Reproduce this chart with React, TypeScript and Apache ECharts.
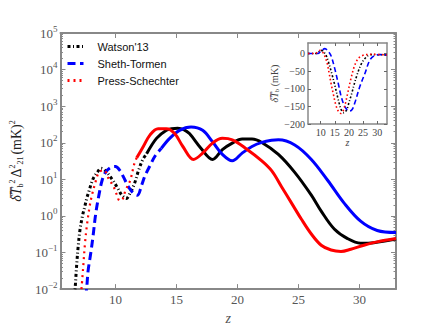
import React, { useEffect, useRef } from "react";
import * as echarts from "echarts";

// ---- Main panel data: (z, power) ----
const watsonLowZ = [6.62, 6.7, 6.81, 6.95, 7.11, 7.33, 7.49, 7.65, 7.84, 8.02, 8.24, 8.51, 8.83, 9.19, 9.72, 10.13, 10.53, 10.89, 11.21, 11.56, 11.89, 12.23, 12.56];
const watsonLowV = [0.007, 0.0107, 0.038, 0.145, 0.44, 1.1, 1.8, 3.0, 4.8, 7.6, 11.5, 15.5, 20, 17, 10.2, 6.2, 3.7, 3.0, 4.2, 7.6, 17, 34, 50];
const watsonHighZ = [12.56, 13.37, 14.18, 14.6, 15.1, 15.6, 16.07, 17.01, 17.96, 18.77, 19.58, 20.39, 21.2, 22.0, 23.36, 24.7, 26.06, 26.87, 27.94, 29.03, 30.1, 31.18, 33.0];
const watsonHighV = [50, 132, 219, 240, 251, 230, 178, 71, 35, 65, 98, 126, 126, 102, 48, 15.5, 3.7, 1.35, 0.44, 0.24, 0.18, 0.186, 0.234];

const shethLowZ = [7.55, 7.65, 7.76, 7.98, 8.19, 8.38, 8.65, 8.91, 9.19, 9.6, 10.0, 10.4, 10.67, 11.08, 11.48, 11.81, 12.15, 12.43, 12.83, 13.24, 13.77];
const shethLowV = [0.006, 0.0107, 0.031, 0.095, 0.32, 1.1, 3.7, 9.3, 15.5, 21, 22.4, 17, 11.5, 6.2, 4.2, 3.7, 6.9, 12.6, 23.4, 42.7, 70.8];
const shethHighZ = [13.77, 14.45, 15.26, 16.2, 17.15, 17.96, 18.77, 19.58, 20.39, 21.2, 22.0, 22.8, 23.36, 24.7, 26.06, 27.41, 28.75, 30.1, 31.46, 33.0];
const shethHighV = [70.8, 132, 219, 269, 219, 107, 48, 32, 52, 79, 102, 117, 120, 87, 35, 9.3, 2.24, 0.72, 0.4, 0.35];

const pressLowZ = [7.22, 7.35, 7.51, 7.68, 7.9, 8.08, 8.3, 8.65, 9.05, 9.46, 9.86, 10.13, 10.35, 10.62, 10.81, 11.21, 11.54, 11.75];
const pressLowV = [0.01, 0.035, 0.178, 0.6, 1.9, 3.7, 6.9, 15.5, 17.8, 10.2, 6.2, 3.7, 2.6, 3.0, 4.8, 9.3, 25.7, 39];
const pressHighZ = [11.75, 12.29, 12.83, 13.5, 14.18, 14.86, 15.53, 16.4, 17.15, 17.96, 18.77, 19.58, 20.66, 22.0, 22.82, 23.63, 24.44, 25.25, 26.06, 26.87, 27.68, 28.49, 29.3, 30.37, 31.46, 33.0];
const pressHighV = [39, 79, 162, 240, 240, 178, 79, 35, 52, 98, 132, 120, 71, 32, 17, 6.2, 2.24, 0.81, 0.32, 0.158, 0.117, 0.107, 0.123, 0.158, 0.195, 0.24];

// ---- Inset data: mean brightness temperature (mK) ----
const insetWatsonZ = [5.5, 8.3, 9.3, 10.1, 10.9, 11.9, 12.8, 13.9, 15.1, 16.2, 17.2, 18.2, 19.2, 20.0, 20.9, 22.7, 24.5, 26.3, 28.0, 33.5];
const insetWatsonT = [0, 0, 5, 9, 6, -5, -25, -56, -93, -130, -158, -168, -160, -140, -116, -65, -28, -9, -3, -4];
const insetShethZ = [5.5, 9.0, 10.0, 11.5, 12.5, 13.6, 14.8, 16.2, 17.4, 18.8, 20.3, 21.2, 22.1, 23.9, 25.7, 27.4, 29.2, 31.0, 33.5];
const insetShethT = [0, 0, 6, 14, 8, -5, -37, -84, -126, -154, -163, -158, -140, -93, -56, -19, -5, -3, -4];
const insetPressZ = [5.5, 8.0, 9.0, 9.75, 10.6, 11.5, 12.3, 13.0, 13.7, 14.5, 15.3, 16.2, 17.1, 18.0, 18.8, 19.5, 20.7, 21.9, 23.3, 25.0, 28.0, 33.5];
const insetPressT = [0, 0, 5, 9, 5, -8, -28, -56, -86, -116, -144, -163, -170, -162, -140, -115, -72, -37, -14, -5, -2, -4];

const zTicks = [10, 15, 20, 25, 30];
const powerTicks = [0.01, 0.1, 1, 10, 100, 1000, 10000, 100000];
const powerMinor = [2, 3, 4, 5, 6, 7, 8, 9].flatMap((m) => [m * 0.01, m * 0.1, m, m * 10, m * 100, m * 1000, m * 10000]);
const tempTicks = [0, -50, -100, -150, -200];

const NAMES = ["Watson'13", "Sheth-Tormen", "Press-Schechter"];

const zip = (a: number[], b: number[]) => a.map((x, i) => [x, b[i]]);

const SERIF = "'Liberation Serif', 'DejaVu Serif', serif";
const SANS = "'Liberation Sans', Arial, sans-serif";
const FRAME = "#888888";
const LABEL = "#555555";

export default function App() {
  const ref = useRef<HTMLDivElement>(null);
  useEffect(() => {
    if (!ref.current) return;
    const chart = echarts.init(ref.current, undefined, { renderer: "svg" });

    const supFmt = (v: number) => {
      const e = Math.round(Math.log10(v));
      return "10{s|" + (e < 0 ? "\u2212" + -e : String(e)) + "}";
    };

    const mainX = (pos: "bottom" | "top", labels: boolean) => ({
      type: "value",
      gridIndex: 0,
      position: pos,
      min: 5.5,
      max: 33,
      splitLine: { show: false },
      axisLine: { show: true, onZero: false, lineStyle: { color: FRAME, width: 2 } },
      axisTick: { show: true, inside: true, length: 5, customValues: zTicks, lineStyle: { color: FRAME, width: 1 } },
      axisLabel: { show: labels, customValues: zTicks, margin: 4, fontFamily: SERIF, fontSize: 13, color: LABEL },
      ...(labels
        ? { name: "z", nameLocation: "middle", nameGap: 9, nameTextStyle: { fontFamily: SERIF, fontStyle: "italic", fontSize: 14, color: LABEL } }
        : {}),
    });

    const mainY = (pos: "left" | "right", labels: boolean, minor: boolean) => ({
      type: "log",
      logBase: 10,
      gridIndex: 0,
      position: pos,
      min: 0.01,
      max: 100000,
      splitLine: { show: false },
      axisLine: { show: !minor, lineStyle: { color: FRAME, width: 2 } },
      axisTick: {
        show: true,
        inside: true,
        length: minor ? 2.5 : 5,
        customValues: minor ? powerMinor : powerTicks,
        lineStyle: { color: FRAME, width: 1 },
      },
      axisLabel: {
        show: labels,
        customValues: powerTicks,
        margin: 3,
        formatter: supFmt,
        fontFamily: SERIF,
        fontSize: 13,
        color: LABEL,
        rich: { s: { fontFamily: SERIF, fontSize: 9, color: LABEL, padding: [0, 0, 9, 0] } },
      },
      ...(labels
        ? {
            name: "{it|\u03B4\u0305T\u0305}{sub|b}{sup|2}{rm|\u0394}{sup|2}{sub|21}{rm|(mK)}{sup|2}",
            nameLocation: "middle",
            nameGap: 27,
            nameTextStyle: {
              fontFamily: SERIF,
              fontSize: 14,
              color: "#222",
              rich: {
                it: { fontFamily: SERIF, fontSize: 14, fontStyle: "italic", color: "#222" },
                rm: { fontFamily: SERIF, fontSize: 14, color: "#222", padding: [0, 0, 0, 2] },
                sup: { fontFamily: SERIF, fontSize: 8, color: "#222", padding: [0, 0, 9, 0] },
                sub: { fontFamily: SERIF, fontSize: 8, color: "#222", padding: [7, 0, 0, 0] },
              },
            },
          }
        : {}),
    });

    const insetX = (pos: "bottom" | "top", labels: boolean) => ({
      type: "value",
      gridIndex: 1,
      position: pos,
      min: 5.5,
      max: 33.5,
      splitLine: { show: false },
      axisLine: { show: true, onZero: false, lineStyle: { color: FRAME, width: 1.5 } },
      axisTick: { show: true, inside: true, length: 3, customValues: zTicks, lineStyle: { color: "#666", width: 1 } },
      axisLabel: { show: labels, customValues: zTicks, margin: 3, fontFamily: SERIF, fontSize: 10, color: "#444" },
      ...(labels
        ? { name: "z", nameLocation: "middle", nameGap: 12, nameTextStyle: { fontFamily: SERIF, fontStyle: "italic", fontSize: 10, color: "#444" } }
        : {}),
    });

    const insetY = (pos: "left" | "right", labels: boolean) => ({
      type: "value",
      gridIndex: 1,
      position: pos,
      min: -200,
      max: 30,
      splitLine: { show: false },
      axisLine: { show: true, onZero: false, lineStyle: { color: FRAME, width: 1.5 } },
      axisTick: { show: true, inside: true, length: 3, customValues: tempTicks, lineStyle: { color: "#666", width: 1 } },
      axisLabel: {
        show: labels,
        customValues: tempTicks,
        margin: 3,
        fontFamily: SERIF,
        fontSize: 10,
        color: "#444",
        formatter: (v: number) => (v < 0 ? "\u2212" + -v : String(v)),
      },
      ...(labels
        ? {
            name: "{it|\u03B4\u0305T\u0305}{sub|b} {rm|(mK)}",
            nameLocation: "middle",
            nameGap: 25,
            nameTextStyle: {
              fontFamily: SERIF,
              fontSize: 10,
              color: "#444",
              rich: {
                it: { fontFamily: SERIF, fontSize: 10, fontStyle: "italic", color: "#444" },
                rm: { fontFamily: SERIF, fontSize: 10, color: "#444" },
                sub: { fontFamily: SERIF, fontSize: 7, color: "#444", padding: [5, 0, 0, 0] },
              },
            },
          }
        : {}),
    });

    const mainLine = (name: string, data: number[][], color: string, width: number, type: any) => ({
      name,
      type: "line",
      xAxisIndex: 0,
      yAxisIndex: 0,
      data,
      symbol: "none",
      showSymbol: false,
      smooth: 0.35,
      clip: true,
      lineStyle: { color, width, type, cap: "butt" },
      itemStyle: { color },
    });

    const insetLine = (name: string, data: number[][], color: string, type: any) => ({
      name,
      type: "line",
      xAxisIndex: 2,
      yAxisIndex: 4,
      data,
      symbol: "none",
      showSymbol: false,
      smooth: 0.35,
      lineStyle: { color, width: 1.6, type },
      itemStyle: { color },
    });

    const dashDot = [3, 2.5, 1, 2.5];
    const dashed = [8, 4.5];
    const dotted = [2, 4];

    chart.setOption({
      animation: false,
      backgroundColor: "#ffffff",
      grid: [
        { left: 55, top: 33, width: 341, height: 264, show: false },
        { left: 308, top: 43, width: 79, height: 81, show: true, backgroundColor: "#ffffff", borderWidth: 0 },
      ],
      legend: {
        data: NAMES,
        orient: "vertical",
        left: 66,
        top: 41,
        padding: 0,
        itemWidth: 16,
        itemHeight: 10,
        itemGap: 6,
        itemStyle: { opacity: 0, borderWidth: 0 },
        lineStyle: { width: 3 },
        textStyle: { fontFamily: SANS, fontSize: 11, color: "#111", padding: [0, 0, 0, 9] },
      },
      xAxis: [mainX("bottom", true), mainX("top", false), insetX("bottom", true), insetX("top", false)],
      yAxis: [
        mainY("left", true, false),
        mainY("right", false, false),
        mainY("left", false, true),
        mainY("right", false, true),
        insetY("left", true),
        insetY("right", false),
      ],
      series: [
        mainLine(NAMES[0], zip(watsonLowZ, watsonLowV), "#000000", 3, dashDot),
        mainLine(NAMES[1], zip(shethLowZ, shethLowV), "#0000ff", 3, dashed),
        mainLine(NAMES[2], zip(pressLowZ, pressLowV), "#ff0000", 2.2, dotted),
        mainLine(NAMES[0], zip(watsonHighZ, watsonHighV), "#000000", 3, "solid"),
        mainLine(NAMES[1], zip(shethHighZ, shethHighV), "#0000ff", 3, "solid"),
        mainLine(NAMES[2], zip(pressHighZ, pressHighV), "#ff0000", 3, "solid"),
        insetLine(NAMES[0], zip(insetWatsonZ, insetWatsonT), "#000000", [2, 2, 1, 2]),
        insetLine(NAMES[1], zip(insetShethZ, insetShethT), "#0000ff", [5, 3]),
        insetLine(NAMES[2], zip(insetPressZ, insetPressT), "#ff0000", [1.6, 2.4]),
      ],
    });
    return () => chart.dispose();
  }, []);

  return <div ref={ref} style={{ position: "fixed", left: 0, top: 0, width: 440, height: 330 }} />;
}
